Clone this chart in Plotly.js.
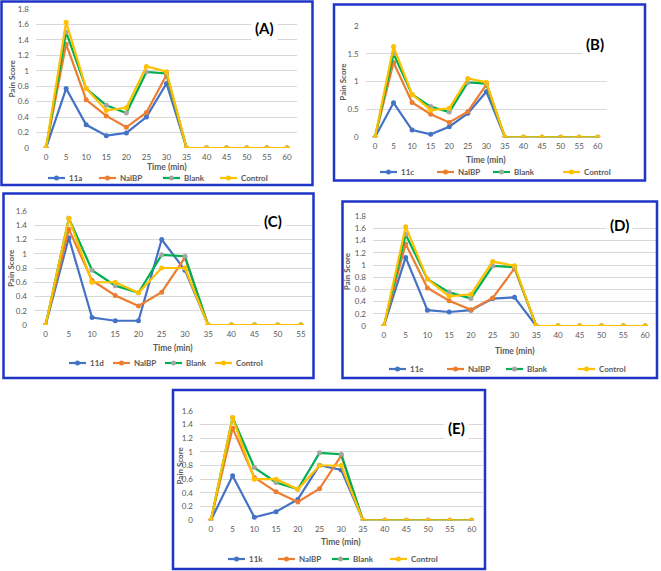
<!DOCTYPE html>
<html><head><meta charset="utf-8">
<script src="https://cdn.plot.ly/plotly-3.0.1.min.js"></script>
<style>html,body{margin:0;padding:0;background:#fff}#chart{width:661px;height:571px}</style>
</head><body><div id="chart"></div><script>
// ---- data ----
const time13 = [0,5,10,15,20,25,30,35,40,45,50,55,60];
const time12 = [0,5,10,15,20,25,30,35,40,45,50,55];
const v11a = [0,0.77,0.30,0.16,0.195,0.40,0.835,0,0,0,0,0,0];
const v11c = [0,0.62,0.13,0.055,0.19,0.43,0.82,0,0,0,0,0,0];
const v11d = [0,1.225,0.105,0.06,0.06,1.2,0.77,0,0,0,0,0];
const v11e = [0,1.125,0.26,0.23,0.26,0.45,0.47,0,0,0,0,0,0];
const v11k = [0,0.65,0.045,0.125,0.305,0.805,0.735,0,0,0,0,0,0];
const nalbp = [0,1.345,0.625,0.415,0.268,0.46,0.945,0,0,0,0,0,0];
const blank = [0,1.5,0.77,0.552,0.453,0.985,0.965,0,0,0,0,0,0];
const controlABD = [0,1.63,0.77,0.487,0.52,1.057,0.988,0,0,0,0,0,0];
const controlCE = [0,1.5,0.6,0.6,0.452,0.8,0.8,0,0,0,0,0,0];
const panelLabels = ['(A)','(B)','(C)','(D)','(E)'];
const compoundNames = ['11a','11c','11d','11e','11k'];
const otherNames = ['NalBP','Blank','Control'];
const xTitle = 'Time (min)';
const yTitle = 'Pain Score';

// ---- layout helpers ----
const W = 661, H = 571;
const px = v => v / W;
const py = v => 1 - v / H;
const FONT = 'Lato, "Liberation Sans", sans-serif';
const GREY = '#595959';
const colors = {comp:'#4472C4', nal:'#ED7D31', blankLine:'#00B050', blankMarker:'#A5A5A5', ctrl:'#FFC000'};

const panels = [
  {comp:v11a, ctrl:controlABD, time:time13, plot:[36,9,297,148], yr:[0,1.8], dt:0.2, box:[1.5,1.5,312.5,185], lab:[264,28], xt:167, yt:12, legY:178, legX:[48,99,163,220]},
  {comp:v11c, ctrl:controlABD, time:time13, plot:[365.7,26,607,137.3], yr:[0,2], dt:0.5, box:[334,4.5,645,180.5], lab:[595,44], xt:160, yt:343, legY:172, legX:[380,437,493,563]},
  {comp:v11d, ctrl:controlCE, time:time12, plot:[34,211,312.6,325], yr:[0,1.6], dt:0.2, box:[3.5,193.5,313.5,378], lab:[273,221], xt:347.7, yt:11, legY:363, legX:[69,113,165,215]},
  {comp:v11e, ctrl:controlABD, time:time13, plot:[373,216.3,656,326], yr:[0,1.8], dt:0.2, box:[342.5,201.5,657,378], lab:[619,225], xt:351, yt:347, legY:369, legX:[389,447,506,578]},
  {comp:v11k, ctrl:controlCE, time:time13, plot:[200,410.7,482.5,520.3], yr:[0,1.6], dt:0.2, box:[173,390,485,569], lab:[456,428], xt:542.3, yt:179, legY:559, legX:[228,278,332,390]}
];

const traces = [], shapes = [], annotations = [];
const layout = {
  width: W, height: H, margin:{l:0,r:0,t:0,b:0},
  paper_bgcolor:'#fff', plot_bgcolor:'rgba(0,0,0,0)',
  font:{family:FONT, color:GREY, size:8},
  showlegend:false
};

panels.forEach((p, i) => {
  const n = i + 1;
  const xa = 'x' + (n === 1 ? '' : n), ya = 'y' + (n === 1 ? '' : n);
  const xk = 'xaxis' + (n === 1 ? '' : n), yk = 'yaxis' + (n === 1 ? '' : n);
  const t = p.time;
  const sl = a => a.slice(0, t.length);
  const series = [
    {name:compoundNames[i], y:sl(p.comp), lc:colors.comp, mc:colors.comp},
    {name:otherNames[0], y:sl(nalbp), lc:colors.nal, mc:colors.nal},
    {name:otherNames[1], y:sl(blank), lc:colors.blankLine, mc:colors.blankMarker},
    {name:otherNames[2], y:sl(p.ctrl), lc:colors.ctrl, mc:colors.ctrl}
  ];
  series.forEach((s, k) => {
    traces.push({
      type:'scatter', mode:'lines+markers', x:t, y:s.y, name:s.name,
      xaxis:xa, yaxis:ya,
      line:{color:s.lc, width:2.2}, marker:{color:s.mc, size:5, symbol:'circle'}
    });
    // manual legend entry
    const lx = p.legX[k], ly = p.legY;
    shapes.push({type:'line', xref:'paper', yref:'paper', x0:px(lx), x1:px(lx+17), y0:py(ly), y1:py(ly),
      line:{color:s.lc, width:2.2}});
    shapes.push({type:'circle', xref:'paper', yref:'paper', x0:px(lx+6), x1:px(lx+11), y0:py(ly+2.5), y1:py(ly-2.5),
      line:{width:0}, fillcolor:s.mc});
    annotations.push({xref:'paper', yref:'paper', x:px(lx+19), y:py(ly), text:'<b>' + s.name + '</b>',
      showarrow:false, xanchor:'left', yanchor:'middle', font:{size:8, color:GREY, family:FONT}});
  });
  layout[xk] = {
    domain:[px(p.plot[0]), px(p.plot[2])], anchor:ya,
    range:[-2.5, t[t.length-1] + 2.5], tickvals:t, ticktext:t.map(String),
    showgrid:false, zeroline:false, showline:false, ticks:'',
    tickfont:{size:8, color:GREY, family:FONT}, ticklabelstandoff:3, fixedrange:true
  };
  layout[yk] = {
    domain:[py(p.plot[3]), py(p.plot[1])], anchor:xa,
    range:p.yr, dtick:p.dt, tick0:0,
    showgrid:true, gridcolor:'#D9D9D9', gridwidth:1, zeroline:false, showline:false, ticks:'',
    tickfont:{size:8, color:GREY, family:FONT}, ticklabelstandoff:6, fixedrange:true
  };
  shapes.push({type:'rect', xref:'paper', yref:'paper',
    x0:px(p.box[0]), x1:px(p.box[2]), y0:py(p.box[3]), y1:py(p.box[1]),
    line:{color:'#1F35C8', width:2.5}, fillcolor:'rgba(0,0,0,0)', layer:'above'});
  annotations.push({xref:'paper', yref:'paper', x:px(p.lab[0]), y:py(p.lab[1]),
    text:'<b>' + panelLabels[i] + '</b>', showarrow:false, xanchor:'center', yanchor:'middle',
    font:{size:15, color:'#000', family:FONT}, bgcolor:'#fff', borderpad:3});
  annotations.push({xref:'paper', yref:'paper', x:px((p.plot[0]+p.plot[2])/2), y:py(p.xt),
    text:'<b>' + xTitle + '</b>', showarrow:false, xanchor:'center', yanchor:'middle',
    font:{size:8.5, color:GREY, family:FONT}});
  annotations.push({xref:'paper', yref:'paper', x:px(p.yt), y:py((p.plot[1]+p.plot[3])/2),
    text:'<b>' + yTitle + '</b>', showarrow:false, xanchor:'center', yanchor:'middle', textangle:-90,
    font:{size:8, color:GREY, family:FONT}});
});
layout.shapes = shapes;
layout.annotations = annotations;
Plotly.newPlot('chart', traces, layout, {displayModeBar:false, staticPlot:true});
</script></body></html>
